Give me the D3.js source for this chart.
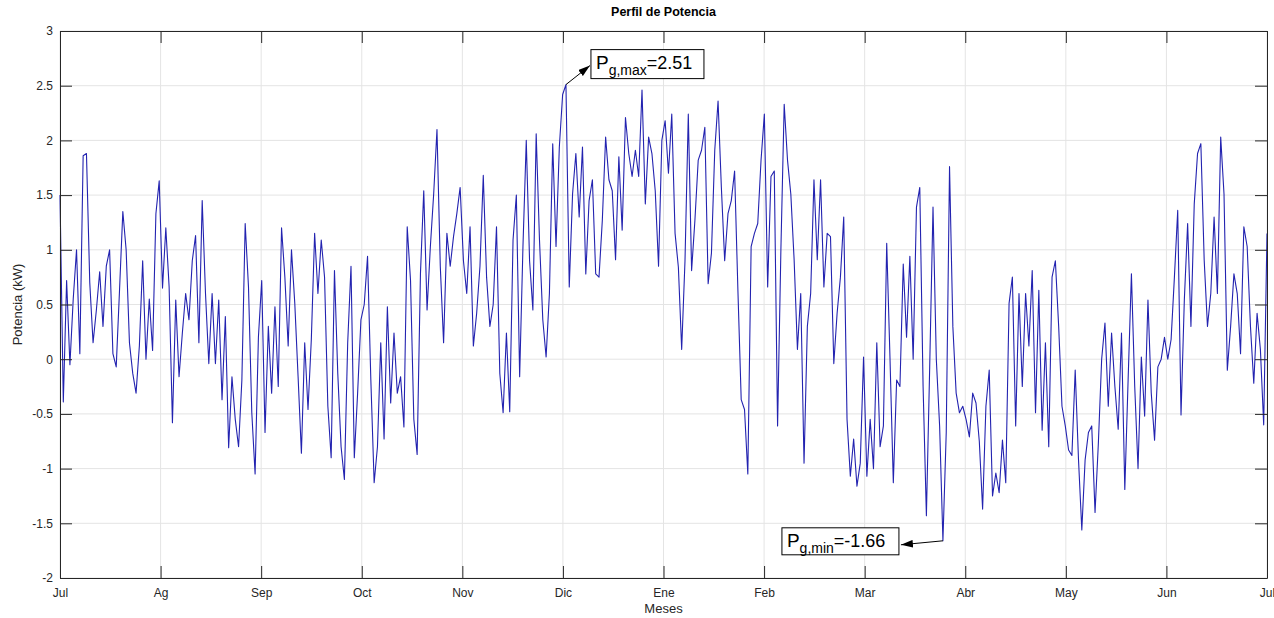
<!DOCTYPE html>
<html>
<head>
<meta charset="utf-8">
<script src="https://cdn.jsdelivr.net/npm/d3@7/dist/d3.min.js"></script>
<style>
  body { margin: 0; background: #fff; }
  svg { display: block; font-family: "Liberation Sans", Arial, Helvetica, sans-serif; }
</style>
</head>
<body>
<svg id="chart" width="1274" height="618"></svg>
<script>
// Month tick labels (one tick every 730 h over a year of 8760 h)
const mesLabels = ["Jul", "Ag", "Sep", "Oct", "Nov", "Dic", "Ene", "Feb", "Mar", "Abr", "May", "Jun", "Jul"];
const yTickValues = [-2, -1.5, -1, -0.5, 0, 0.5, 1, 1.5, 2, 2.5, 3];
const horasAnio = 8760;
const pasoHoras = 24;

// Daily power samples (kW), month by month
const potJul = [1.5, -0.39, 0.72, -0.05, 0.55, 1.0, 0.05, 1.86, 1.88, 0.7, 0.15, 0.45, 0.8, 0.3, 0.85, 1.0, 0.05, -0.07, 0.63, 1.35, 1.0, 0.15, -0.13, -0.31, 0.12, 0.9, 0.0, 0.55, 0.08, 1.33, 1.63];
const potAg  = [0.65, 1.2, 0.66, -0.58, 0.54, -0.16, 0.24, 0.6, 0.36, 0.9, 1.13, 0.15, 1.45, 0.6, -0.04, 0.6, -0.04, 0.54, -0.37, 0.39, -0.81, -0.16, -0.55, -0.8, -0.19, 1.24, 0.66, -0.49, -1.05, 0.2, 0.72];
const potSep = [-0.67, 0.3, -0.31, 0.48, -0.25, 1.2, 0.75, 0.12, 1.0, 0.51, -0.16, -0.86, 0.15, -0.46, 0.18, 1.15, 0.6, 1.09, 0.75, -0.43, -0.9, 0.81, -0.13, -0.8, -1.1, 0.15, 0.85, -0.9, -0.31, 0.36];
const potOct = [0.5, 0.94, -0.19, -1.13, -0.8, 0.15, -0.73, 0.48, -0.4, 0.24, -0.31, -0.16, -0.62, 1.21, 0.72, -0.55, -0.87, 0.78, 1.54, 0.45, 1.03, 1.51, 2.1, 0.85, 0.15, 1.15, 0.85, 1.12, 1.33, 1.57, 0.9];
const potNov = [0.6, 1.21, 0.12, 0.42, 0.85, 1.68, 0.75, 0.3, 0.5, 1.21, -0.13, -0.49, 0.24, -0.48, 1.09, 1.5, -0.16, 1.03, 2.0, 0.9, 0.45, 2.06, 1.09, 0.36, 0.02, 0.6, 1.97, 1.03, 1.94, 2.42];
const potDic = [2.51, 0.66, 1.51, 1.88, 1.3, 1.94, 0.78, 1.45, 1.64, 0.78, 0.75, 1.27, 2.03, 1.64, 1.54, 0.91, 1.85, 1.18, 2.21, 1.88, 1.67, 1.91, 1.67, 2.46, 1.42, 2.03, 1.88, 1.54, 0.85, 2.0, 2.18];
const potEne = [1.7, 2.24, 1.15, 0.84, 0.09, 0.9, 2.24, 0.81, 1.27, 1.82, 1.91, 2.12, 0.69, 0.97, 1.91, 2.36, 1.57, 0.9, 1.33, 1.45, 1.72, 0.63, -0.37, -0.46, -1.05, 1.03, 1.15, 1.24, 1.82, 2.24, 0.66];
const potFeb = [1.67, 1.72, -0.61, 1.0, 2.33, 1.82, 1.51, 0.91, 0.09, 0.6, -0.95, 0.3, 0.6, 1.64, 0.91, 1.64, 0.66, 1.15, 1.12, -0.04, 0.42, 0.75, 1.3, -0.55, -1.07, -0.73, -1.16, -0.95, 0.02, -1.07];
const potMar = [-0.55, -1.0, 0.15, -0.8, -0.61, 1.06, 0.0, -1.13, -0.19, -0.25, 0.87, 0.2, 0.94, 0.0, 1.39, 1.57, -0.25, -1.43, -0.07, 1.39, 0.0, -0.61, -1.66, -0.67, 1.76, 0.3, -0.31, -0.49, -0.43, -0.55];
const potAbr = [-0.71, -0.31, -0.4, -0.75, -1.37, -0.43, -0.1, -1.25, -1.04, -1.22, -0.74, -1.13, 0.51, 0.75, -0.61, 0.6, -0.25, 0.6, 0.12, 0.81, -0.49, 0.63, -0.65, 0.15, -0.8, 0.75, 0.9, 0.3, -0.43, -0.61, -0.83];
const potMay = [-0.88, -0.1, -0.92, -1.56, -0.92, -0.67, -0.61, -1.4, -0.77, 0.0, 0.33, -0.43, 0.24, -0.25, -0.64, 0.24, -1.19, -0.19, 0.78, -0.25, -1.0, 0.02, -0.52, 0.54, -0.31, -0.74, -0.07, 0.0, 0.2, 0.0];
const potJun = [0.18, 0.75, 1.36, -0.51, 0.54, 1.24, 0.3, 1.42, 1.88, 1.97, 0.91, 0.3, 0.6, 1.3, 0.6, 2.03, 1.51, -0.1, 0.3, 0.78, 0.6, 0.05, 1.21, 1.03, 0.3, -0.22, 0.42, 0.09, -0.6, 1.15];

const potencia = [].concat(potJul, potAg, potSep, potOct, potNov, potDic,
                           potEne, potFeb, potMar, potAbr, potMay, potJun);
const serie = potencia.map((v, i) => ({ h: i * pasoHoras, v }));

const svg = d3.select("#chart");
const m = { left: 60, right: 1267, top: 31, bottom: 578 };
const axisColor = "#262626";
// plain hyphen-minus for negative numbers
const fmtTick = d => d3.format("~g")(d).replace("\u2212", "-");
const fmtVal = d => d3.format(".2f")(d).replace("\u2212", "-");

const x = d3.scaleLinear().domain([0, horasAnio]).range([m.left, m.right]);
const y = d3.scaleLinear().domain([-2, 3]).range([m.bottom, m.top]);
const xTickValues = mesLabels.map((_, i) => i * horasAnio / 12);

// grid
const grid = svg.append("g");
grid.selectAll(".gx").data(xTickValues).join("line")
  .attr("x1", d => x(d)).attr("x2", d => x(d))
  .attr("y1", m.top).attr("y2", m.bottom)
  .attr("stroke", "#e4e4e4").attr("stroke-width", 1);
grid.selectAll(".gy").data(yTickValues).join("line")
  .attr("y1", d => y(d)).attr("y2", d => y(d))
  .attr("x1", m.left).attr("x2", m.right)
  .attr("stroke", "#e4e4e4").attr("stroke-width", 1);

// power trace
const linea = d3.line().x(d => x(d.h)).y(d => y(d.v));
svg.append("path").datum(serie)
  .attr("d", linea)
  .attr("fill", "none")
  .attr("stroke", "#2323b0")
  .attr("stroke-width", 1.1)
  .attr("stroke-linejoin", "round");

// axes (ticks point inward, box on)
const tick = 12;
function styleAxis(g) {
  g.selectAll("path.domain").attr("stroke", axisColor).attr("stroke-width", 1);
  g.selectAll(".tick line").attr("stroke", axisColor).attr("stroke-width", 1);
  g.selectAll(".tick text").attr("fill", axisColor).attr("font-size", 12)
    .attr("font-family", "'Liberation Sans', Arial, sans-serif");
}
svg.append("g").attr("transform", `translate(0,${m.bottom})`)
  .call(d3.axisBottom(x).tickValues(xTickValues).tickFormat((d, i) => mesLabels[i])
    .tickSizeInner(-tick).tickSizeOuter(0).tickPadding(10))
  .call(styleAxis);
svg.append("g").attr("transform", `translate(0,${m.top})`)
  .call(d3.axisTop(x).tickValues(xTickValues).tickFormat("")
    .tickSizeInner(-tick).tickSizeOuter(0))
  .call(styleAxis);
svg.append("g").attr("transform", `translate(${m.left},0)`)
  .call(d3.axisLeft(y).tickValues(yTickValues).tickFormat(fmtTick)
    .tickSizeInner(-tick).tickSizeOuter(0).tickPadding(7))
  .call(styleAxis);
svg.append("g").attr("transform", `translate(${m.right},0)`)
  .call(d3.axisRight(y).tickValues(yTickValues).tickFormat("")
    .tickSizeInner(-tick).tickSizeOuter(0))
  .call(styleAxis);

// title and axis labels
svg.append("text").attr("x", (m.left + m.right) / 2).attr("y", 15.5)
  .attr("text-anchor", "middle").attr("font-weight", "bold")
  .attr("font-size", 12.5).attr("fill", "#000").text("Perfil de Potencia");
svg.append("text").attr("x", (m.left + m.right) / 2).attr("y", 613)
  .attr("text-anchor", "middle").attr("font-size", 13)
  .attr("fill", axisColor).text("Meses");
svg.append("text").attr("transform", `translate(22,${(m.top + m.bottom) / 2}) rotate(-90)`)
  .attr("text-anchor", "middle").attr("font-size", 13)
  .attr("fill", axisColor).text("Potencia (kW)");

// arrow marker for the annotations
svg.append("defs").append("marker")
  .attr("id", "flecha").attr("viewBox", "0 -4 12 8")
  .attr("refX", 12).attr("refY", 0)
  .attr("markerWidth", 12).attr("markerHeight", 8)
  .attr("markerUnits", "userSpaceOnUse").attr("orient", "auto")
  .append("path").attr("d", "M0,-3.8L12,0L0,3.8Z").attr("fill", "#000");

function anotacion(idx, sub, boxLeft, boxTop, boxW, boxH, tail) {
  const px = x(serie[idx].h), py = y(serie[idx].v);
  const g = svg.append("g");
  g.append("line")
    .attr("x1", px).attr("y1", py)
    .attr("x2", px + tail[0]).attr("y2", py + tail[1])
    .attr("stroke", "#000").attr("stroke-width", 1)
    .attr("marker-end", "url(#flecha)");
  g.append("rect")
    .attr("x", px + boxLeft).attr("y", py + boxTop)
    .attr("width", boxW).attr("height", boxH)
    .attr("fill", "#fff").attr("stroke", "#000").attr("stroke-width", 1);
  const t = g.append("text")
    .attr("x", px + boxLeft + 5).attr("y", py + boxTop + 19)
    .attr("fill", "#000").attr("font-family", "Arial, 'Liberation Sans', sans-serif");
  t.append("tspan").attr("font-size", 19).text("P");
  t.append("tspan").attr("font-size", 14).attr("dy", 6).text(sub);
  t.append("tspan").attr("font-size", 18).attr("dy", -6).text("=" + fmtVal(serie[idx].v));
}

const iMax = d3.maxIndex(potencia);
const iMin = d3.minIndex(potencia);
anotacion(iMax, "g,max", 25, -35, 113, 29, [24, -19]);
anotacion(iMin, "g,min", -161, -13, 117, 27, [-42, 4]);
</script>
</body>
</html>
